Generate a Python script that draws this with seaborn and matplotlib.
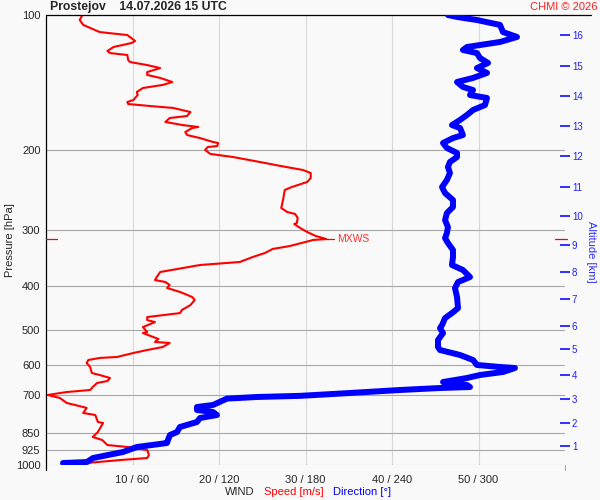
import numpy as np
import matplotlib
matplotlib.use("Agg")
import matplotlib.pyplot as plt
from matplotlib.ticker import NullLocator
import seaborn as sns

# wind speed [m/s] against pressure [hPa]
speed = [4.2, 3.9, 4.3, 6.2, 7.1, 9.4, 10.3, 9.9, 7.8, 7.1,
         7.4, 9.4, 9.5, 9.7, 11.7, 13.2, 11.7, 11.7, 13.2, 14.6,
         13.5, 11.2, 10.5, 10.6, 10.1, 9.4, 9.5, 12.0, 14.7, 16.7,
         16.3, 14.3, 13.8, 15.8, 17.6, 16.9, 16.1, 16.3, 17.8, 19.3,
         19.9, 19.8, 18.7, 18.4, 19.0, 21.6, 24.7, 27.1, 29.7, 30.6,
         30.6, 30.2, 28.4, 27.6, 27.5, 27.4, 27.2, 27.9, 28.8, 29.1,
         29.0, 28.7, 29.4, 30.2, 31.2, 32.4, 30.9, 28.2, 26.2, 25.3,
         23.9, 22.4, 20.9, 17.8, 13.2, 12.8, 12.6, 13.8, 14.3, 14.0,
         15.5, 16.9, 17.2, 16.7, 15.7, 15.5, 11.7, 11.7, 12.6, 11.2,
         11.7, 11.2, 12.4, 13.0, 12.6, 14.3, 13.5, 11.7, 10.1, 8.2,
         6.2, 4.9, 4.7, 5.1, 5.3, 6.2, 7.4, 7.1, 5.9, 5.4,
         5.1, 2.4, 0.2, 1.6, 2.4, 4.3, 4.7, 4.3, 5.7, 6.0,
         6.6, 6.0, 5.4, 6.5, 7.1, 9.4, 11.7, 11.9, 11.7, 8.6,
         4.7]
speed_pres = [100, 102.6, 105.2, 109.1, 109.6, 110.8, 114.2, 115.4, 117.8, 120.2,
              121.5, 122.7, 125.9, 127.2, 129.2, 131.2, 133.9, 135.9, 138.0, 140.9,
              143.0, 145.3, 148.3, 150.6, 154.5, 156.1, 157.7, 159.3, 160.9, 164.3,
              167.7, 169.4, 172.9, 175.6, 177.4, 178.3, 182.0, 184.8, 187.7, 191.5,
              192.5, 195.5, 196.5, 199.5, 203.6, 206.8, 212.1, 216.5, 221.0, 224.4,
              230.3, 235.0, 241.2, 244.9, 251.2, 257.7, 268.5, 274.1, 276.8, 282.5,
              289.9, 291.4, 297.5, 303.6, 309.9, 314.7, 316.2, 326.1, 331.1, 338.0,
              345.0, 353.9, 355.7, 359.4, 372.5, 382.2, 388.1, 392.1, 398.1, 404.3,
              412.6, 423.3, 429.9, 441.1, 452.6, 459.6, 469.1, 476.4, 481.3, 493.8,
              506.5, 509.1, 519.6, 524.8, 532.9, 535.6, 546.7, 555.2, 563.8, 575.4,
              578.3, 584.3, 593.3, 605.6, 624.5, 631.0, 640.7, 650.6, 657.3, 671.0,
              681.3, 688.4, 698.9, 709.7, 728.1, 743.2, 747.0, 766.3, 774.3, 802.5,
              806.6, 844.5, 866.5, 880.0, 902.9, 912.0, 926.1, 950.3, 964.9, 974.9,
              989.9]

# wind direction [deg] against pressure [hPa]
direction = [278.8, 285.1, 298.9, 314.9, 317.0, 326.7, 314.9, 292.0, 289.2, 298.9,
             301.0, 306.6, 298.9, 305.9, 296.2, 285.1, 289.2, 296.2, 294.1, 305.9,
             304.5, 296.2, 292.0, 287.2, 281.6, 287.2, 289.2, 282.3, 275.4, 278.1,
             285.1, 285.1, 280.2, 278.8, 280.2, 278.1, 274.7, 276.8, 282.3, 282.3,
             278.1, 276.8, 278.8, 278.1, 276.8, 278.8, 282.3, 282.3, 281.6, 289.2,
             294.1, 285.8, 283.7, 285.1, 285.8, 281.6, 276.8, 274.7, 273.3, 275.4,
             271.9, 271.9, 273.3, 287.2, 296.2, 298.9, 314.9, 325.3, 317.0, 301.0,
             292.0, 275.4, 292.0, 294.1, 273.3, 245.5, 210.9, 176.2, 146.3, 125.5,
             115.8, 104.7, 104.7, 115.8, 118.6, 106.8, 104.7, 92.9, 90.9, 86.0,
             84.6, 83.9, 63.1, 53.4, 32.6, 28.4, 11.8]
dir_pres = [100, 101.0, 102.6, 105.2, 109.1, 111.9, 114.8, 117.8, 119.6, 121.5,
            124.6, 127.8, 131.2, 134.5, 138.0, 140.9, 144.5, 146.8, 150.6, 152.9,
            158.5, 162.6, 166.8, 171.1, 175.6, 178.3, 184.8, 187.7, 192.5, 197.5,
            202.6, 206.8, 212.1, 217.6, 224.4, 232.6, 241.2, 248.7, 257.7, 267.1,
            275.4, 285.5, 296.0, 305.2, 313.1, 321.1, 332.8, 345.0, 359.4, 368.7,
            382.2, 392.1, 404.3, 423.3, 448.0, 459.6, 471.5, 488.7, 496.3, 509.1,
            527.5, 546.7, 555.2, 569.6, 584.3, 599.4, 605.6, 608.7, 621.3, 631.0,
            640.7, 654.0, 664.1, 671.0, 674.4, 681.3, 691.8, 702.0, 706.1, 712.0,
            735.6, 743.2, 754.7, 762.4, 774.3, 786.3, 802.5, 823.3, 844.5, 857.7,
            880.0, 893.6, 912.0, 935.7, 964.9, 985.0, 989.9]

pres_ticks = [100, 200, 300, 400, 500, 600, 700, 850, 925, 1000]
speed_ticks = [10, 20, 30, 40, 50]
dir_ticks = [60, 120, 180, 240, 300]
alt_km = list(range(1, 17))
alt_pres = [907.6, 806.6, 713.4, 631.0, 552.4, 491.2, 427.7, 372.5,
            324.4, 279.8, 241.2, 205.8, 176.5, 151.4, 129.8, 110.8]

bg = '#f9f9f9'
sns.set_style("white", {"axes.facecolor": bg, "figure.facecolor": bg})
plt.rcParams['font.family'] = ['Liberation Sans', 'DejaVu Sans']

fig = plt.figure(figsize=(6, 5), dpi=100)
ax = fig.add_axes([46/600, 35/500, 519/600, 450/500])
ax.set_yscale('log')
ax2 = ax.twiny()

sns.lineplot(x=speed, y=speed_pres, sort=False, estimator=None,
             color='#ff0000', linewidth=1.5, ax=ax)
sns.lineplot(x=direction, y=dir_pres, sort=False, estimator=None,
             color='#0000ff', linewidth=4.3, ax=ax2)

ax.set_xlim(0, 60)
ax2.set_xlim(0, 360)
ax.set_ylim(1000, 100)
ax.yaxis.set_minor_locator(NullLocator())
ax.set_yticks(pres_ticks)
ax.set_yticklabels([str(p) for p in pres_ticks])
ax.set_xticks(speed_ticks)
ax.set_xticklabels([f"{s} / {d}" for s, d in zip(speed_ticks, dir_ticks)])
ax.tick_params(axis='both', length=0, labelsize=8)
ax.tick_params(axis='y', pad=4)
ax.tick_params(axis='x', pad=7)
ax.yaxis.grid(True, color='#a8a8a8', lw=0.8)
ax.xaxis.grid(True, color='#d8d8d8', lw=0.8)
ax.set_axisbelow(True)
ax.set_xlabel('')
ax.set_ylabel('')
ax2.set_xlabel('')
ax2.set_xticks([])
for a in (ax, ax2):
    for s in a.spines.values():
        s.set_visible(False)

# frame lines
ax.plot([0, 1.05], [1, 1], transform=ax.transAxes, color='black', lw=0.9, clip_on=False)
ax.plot([0, 0], [-0.011, 1], transform=ax.transAxes, color='black', lw=0.9, clip_on=False)
ax.plot([1, 1], [-0.011, 0], transform=ax.transAxes, color='#a8a8a8', lw=0.8, clip_on=False)

# maximum wind
i = int(np.argmax(speed))
mx, mp = speed[i], speed_pres[i]
ax.plot([mx, mx + 0.9], [mp, mp], color='#ff0000', lw=0.9)
ax.text(mx + 1.3, mp, 'MXWS', color='#ff3030', fontsize=7.5, va='center')
ax.plot([0, 0.021], [mp, mp], transform=ax.get_yaxis_transform(), color='#ff0000', lw=0.9, clip_on=False)
ax.plot([0.98, 1.003], [mp, mp], transform=ax.get_yaxis_transform(), color='#ff0000', lw=0.9, clip_on=False)

# altitude axis
ax3 = ax.twinx()
ax3.set_yscale('log')
ax3.set_ylim(1000, 100)
ax3.yaxis.set_minor_locator(NullLocator())
ax3.set_yticks(alt_pres)
ax3.set_yticklabels([str(k) for k in alt_km])
ax3.tick_params(axis='y', colors='#2020ff', length=7, width=1.3, direction='inout',
                labelsize=7, pad=1.5)
for s in ax3.spines.values():
    s.set_visible(False)

fig.text(50/600, 1 - 7/500, 'Prostejov    14.07.2026 15 UTC', weight='bold',
         fontsize=8.8, ha='left', va='center')
fig.text(597/600, 1 - 7/500, 'CHMI © 2026', color='#ff2020', fontsize=8,
         ha='right', va='center')
fig.text(10/600, 1 - 240/500, 'Pressure [hPa]', rotation=90, fontsize=8,
         ha='center', va='center')
fig.text(591/600, 1 - 252/500, 'Altitude [km]', rotation=270, fontsize=8,
         color='#3030ff', ha='center', va='center')
fig.text(225/600, 1 - 492/500, 'WIND', fontsize=8, ha='left', va='center')
fig.text(264/600, 1 - 492/500, 'Speed [m/s]', fontsize=8, color='#ff0000',
         ha='left', va='center')
fig.text(333/600, 1 - 492/500, 'Direction [°]', fontsize=8, color='#0000ff',
         ha='left', va='center')

fig.savefig('out.png', dpi=100, facecolor=bg)
